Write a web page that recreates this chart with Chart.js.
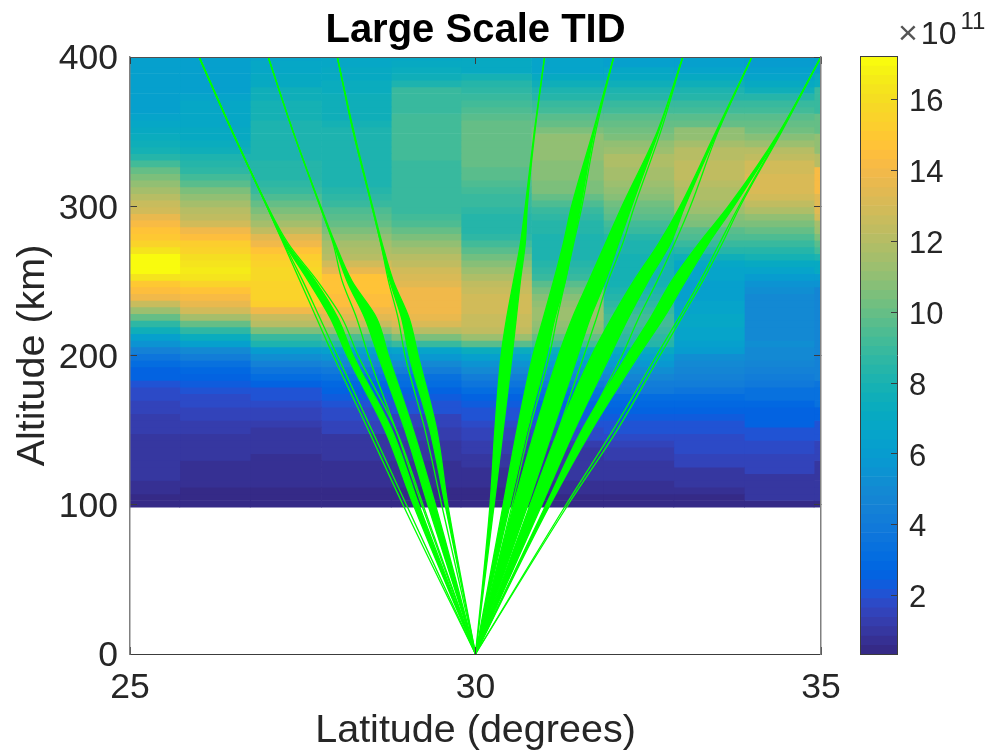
<!DOCTYPE html>
<html>
<head>
<meta charset="utf-8">
<title>Large Scale TID</title>
<script src="https://cdn.jsdelivr.net/npm/chart.js@4"></script>
<style>
  body { margin: 0; background: #fff; overflow: hidden; }
  canvas { position: absolute; top: 0; }
  #heatCanvas { left: 0; }
  #barCanvas { left: 850px; }
  #barExp { position: absolute; left: 898px; top: 13px; font: 32px "Liberation Sans", sans-serif; color: #262626; white-space: nowrap; }
  #barExp .times { color: #555; font-size: 34px; margin-right: 3px; }
  #barExp sup { font-size: 24px; line-height: 0; vertical-align: 15px; margin-left: 4px; }
</style>
</head>
<body>
<canvas id="heatCanvas" width="986" height="755"></canvas>
<canvas id="barCanvas" width="136" height="755"></canvas>
<div id="barExp"><span class="times">×</span>10<sup>11</sup></div>
<script>
const latTicks = [25, 30, 35];
const altTicks = [0, 100, 200, 300, 400];
const barTicks = [2, 4, 6, 8, 10, 12, 14, 16];

// heat map grid: column edges in degrees, rows start at heatAltStart
const heatLatEdges = [25, 25.72, 26.74, 27.77, 28.78, 29.79, 30.81, 31.85, 32.87, 33.89, 34.9, 35];
const heatAltStart = 98.4;
const heatAltStep = 4.47;

// electron density (x 1e11), one list per column, bottom row first
const heatCol01 = [.55,.6,.65,.7,1.1,1.1,1.1,1.1,1.15,1.15,1.15,1.2,1.2,1.25,1.55,1.6,1.7,1.9,2.2,2.5,2.7,3.1,3.7,4.5,5.4,6.4,7.6,8.6,10,11.4,12.6,13.8,14.4,15,16.2,17,17.2,17,16.2,15.6,15,14.6,14.3,13.6,13,12.5,12,11.5,11,10.5,10,9.2,8.5,7.9,7.6,7.3,7.1,6.9,6.6,6.4,6.4,6.3,6.3,6.3,6.3,6.3,6.3,6.3];
const heatCol02 = [.55,.6,.6,.65,.65,.7,.75,1.1,1.1,1.15,1.15,1.2,1.2,1.55,1.6,1.7,1.9,2.1,2.3,2.6,2.9,3.3,4.2,5,6.2,7.3,8.6,10,11.5,12.8,13.6,14.2,14.8,15.5,16.4,16.5,16.4,16,15.6,15.2,14.5,13.8,13,12.4,12,11.5,11,10.4,9.8,9.2,8.7,8.3,8,7.7,7.4,7.2,7,6.9,6.8,6.7,6.7,6.6,6.4,6.4,6.4,6.4,6.3,6.3];
const heatCol03 = [.55,.6,.6,.65,.65,.7,.7,.75,1.05,1.1,1.1,1.15,1.35,1.45,1.6,1.9,1.95,2.2,2.6,3,3.6,4.4,5.2,6,8,8.8,10.5,12,12.6,14,15.2,15.6,15.5,15.6,15.7,15.7,15.5,15.2,14.6,14,13.3,12.4,11.6,11,10.4,10,9.5,9,8.7,8.5,8.4,8.3,8.2,8.2,8.1,8.1,8,8,7.9,7.9,7.8,7.6,7.5,7.2,7.1,6.9,6.7,6.6];
const heatCol04 = [.55,.6,.6,.65,.65,.7,.75,1.05,1.1,1.1,1.15,1.5,1.55,1.8,1.85,2,2.3,2.5,2.8,3.3,4,4.7,5.5,6.2,8.3,9.5,11,12.6,13.4,14,14.4,14.4,14.6,14.6,14.6,13.6,12.8,12.2,11.8,11.5,11,10.6,10,9.6,9.4,9,8.6,8.3,8.2,8.2,8.2,8.2,8.2,8.1,8,8,8,7.9,7.7,7.7,7.6,7.6,7.4,7.3,7.2,7.1,6.9,6.8];
const heatCol05 = [.55,.6,.6,.65,.65,.7,.75,1.05,1.1,1.15,1.35,1.4,1.6,1.65,1.95,2.05,2.3,2.5,3,3.5,4.3,4.9,5.7,6.5,8.9,10.5,12.2,13.2,13.6,14,14,14,14,13.4,13.1,12.8,12.4,12,11.6,11,10.4,10,9.5,9.2,9,8.8,8.8,8.8,8.8,8.8,8.8,9,9.2,9.3,9.3,9.3,9.3,9.3,9.2,9,8.9,8.9,8.8,8,7.7,7.3,7,6.9];
const heatCol06 = [.55,.6,.6,.65,.7,.75,1,1.05,1.2,1.25,1.5,1.55,1.9,1.95,2.2,2.4,2.6,3,3.6,4.2,4.9,5.6,6.3,7.3,9.8,11.3,12.4,12.7,12.7,13,13,12.9,12.7,12.4,11.8,11.2,10.7,10.3,9.8,9.3,8.7,8.4,8.3,8.4,8.6,8.8,9,9.2,9.4,9.6,9.8,10,10,10,10,10,10,9.9,9.6,9.4,9.1,8.9,8.6,8.4,7.8,7.2,7,7];
const heatCol07 = [.55,.6,.65,.7,.95,1,1,1.1,1.15,1.4,1.7,1.9,2.1,2.4,2.45,2.6,3,3.4,4,4.7,5.2,5.8,6.5,7.4,9.3,10.1,10.8,11,11.2,11.2,11,10.7,10.3,9.7,9,8.6,8.3,8.2,8.1,8.2,8.2,8.3,8.3,8.6,9,9.5,10,10.4,10.6,10.8,10.8,10.8,10.9,11,11,10.9,10.4,10,9.6,9.3,8.9,8.5,8.1,7.6,7,6.6,6.5,6.5];
const heatCol08 = [.55,.6,.65,.7,1,1.05,1.1,1.3,1.35,1.6,1.7,2.05,2.15,2.45,2.55,2.8,3.2,3.8,4.3,4.7,5.2,5.7,6.3,7,8.5,8.7,9,9.1,9.1,9,8.7,8.5,8.1,7.9,7.8,7.8,7.8,7.9,8,8.1,8.4,8.8,9.3,9.6,10,10.3,10.7,11,11.4,11.5,11.5,11.7,11.7,11.4,11.1,10.5,10.2,10,9.6,9.3,8.9,8.5,8,7.5,7,6.7,6.3,6.3];
const heatCol09 = [.55,.6,.65,1.05,1.1,1.15,1.45,1.5,1.7,1.75,1.8,2.05,2.15,2.45,2.55,2.8,3.2,3.7,4.2,4.4,4.6,5,5.2,5.9,6.2,6.5,6.6,6.7,6.7,6.5,6.5,6.4,6.4,6.4,6.5,6.5,6.7,7.5,8.3,9,9.5,9.8,10.4,10.8,11.2,11.5,11.8,11.9,12.2,12.4,12.4,12.4,12.2,12,11.5,11.1,10.9,10,9.6,9.3,8.9,8.5,8,7.5,7,6.6,6.2,6.2];
const heatCol10 = [.55,.95,1,1,1.05,1.45,1.5,1.5,1.75,1.8,2.05,2.15,2.5,2.6,2.65,2.9,3.3,3.5,4,4.2,4.4,4.6,4.9,5.1,5.2,5.1,5.1,5.1,5.1,5.1,5,5,5.2,5.4,6,6.5,7,7.8,8.5,9,9.5,10,10.4,11,11.8,12.4,12.8,13.2,13.2,13.2,13,12.8,12.3,12,11.4,10.8,10.3,10,9.6,9.2,9,8.3,7.7,7.2,6.6,6.2,6,6];
const heatCol11 = [.55,1,1,1,1,1,1.05,1.6,1.6,1.6,2.2,2.2,2.2,2.6,2.6,3.3,3.5,3.5,3.6,4.5,4.5,4.5,4.5,4.6,4.6,4.6,4.6,4.6,4.6,4.6,4.6,4.6,4.6,5.5,5.9,7,7.2,8,9.3,9.7,10.5,11.3,11.5,13,13.3,13.4,13.4,14.1,14.1,14.1,14.1,12.2,12.2,11,11,11,10,10,10,8.8,8.8,8.8,8.8,7.4,7.4,6.3,6.3,6.3];
const heatCols = [heatCol01, heatCol02, heatCol03, heatCol04, heatCol05, heatCol06, heatCol07, heatCol08, heatCol09, heatCol10, heatCol11];

// ray paths: latitude at each of these altitudes (km)
const rayAlts = [0, 100, 150, 200, 225, 250, 275, 300, 350, 400];
const rayA1 = [30, 28.95, 28.45, 27.94, 27.70, 27.46, 27.22, 26.98, 26.48, 26];
const rayA2 = [30, 29.00, 28.50, 28.00, 27.75, 27.50, 27.23, 26.98, 26.48, 26];
const rayAL = [30, 29.10, 28.69, 28.14, 27.90, 27.58, 27.24, 26.98, 26.48, 26];
const rayAR = [30, 29.18, 28.79, 28.23, 28.01, 27.68, 27.27, 26.99, 26.48, 26];
const rayA3 = [30, 29.24, 28.85, 28.30, 28.07, 27.71, 27.29, 26.99, 26.48, 26];
const rayB1 = [30, 29.22, 28.85, 28.45, 28.28, 28.07, 27.94, 27.75, 27.36, 27];
const rayBL = [30, 29.31, 28.98, 28.59, 28.40, 28.14, 27.95, 27.75, 27.36, 27];
const rayBR = [30, 29.42, 29.10, 28.74, 28.57, 28.21, 27.97, 27.76, 27.36, 27];
const rayC1 = [30, 29.51, 29.27, 28.98, 28.88, 28.74, 28.63, 28.50, 28.23, 28];
const rayCL = [30, 29.56, 29.34, 29.04, 28.93, 28.76, 28.63, 28.50, 28.23, 28];
const rayCR = [30, 29.60, 29.44, 29.17, 29.04, 28.81, 28.65, 28.51, 28.24, 28];
const rayDL = [30, 30.21, 30.28, 30.37, 30.45, 30.55, 30.65, 30.72, 30.85, 31];
const rayDR = [30, 30.27, 30.40, 30.53, 30.59, 30.65, 30.72, 30.75, 30.86, 31];
const rayE1 = [30, 30.53, 30.78, 31.07, 31.18, 31.30, 31.42, 31.54, 31.74, 32];
const rayEL = [30, 30.40, 30.60, 30.83, 30.98, 31.13, 31.27, 31.39, 31.70, 32];
const rayER = [30, 30.50, 30.75, 31.03, 31.15, 31.30, 31.41, 31.52, 31.72, 32];
const rayF1 = [30, 30.83, 31.20, 31.57, 31.75, 31.92, 32.13, 32.30, 32.68, 33];
const rayFL = [30, 30.55, 30.86, 31.20, 31.40, 31.64, 31.88, 32.12, 32.63, 33];
const rayFR = [30, 30.76, 31.12, 31.48, 31.66, 31.88, 32.07, 32.26, 32.65, 33];
const rayG1 = [30, 31.04, 31.56, 32.12, 32.36, 32.63, 32.88, 33.11, 33.51, 34];
const rayGL = [30, 30.79, 31.20, 31.68, 31.97, 32.29, 32.65, 32.96, 33.48, 34];
const rayGR = [30, 30.96, 31.43, 31.95, 32.21, 32.50, 32.82, 33.03, 33.50, 34];
const rayHL = [30, 31.02, 31.54, 32.19, 32.53, 32.84, 33.23, 33.66, 34.40, 35];
const rayHR = [30, 31.08, 31.68, 32.36, 32.72, 33.04, 33.37, 33.74, 34.41, 35];
const rayH1 = [30, 31.31, 31.99, 32.62, 32.94, 33.25, 33.53, 33.81, 34.42, 35];
const rayH2 = [30, 31.34, 32.05, 32.67, 32.98, 33.29, 33.57, 33.83, 34.43, 35];
const thinRays = [rayA1, rayA2, rayA3, rayB1, rayC1, rayE1, rayF1, rayG1, rayH1, rayH2];
const bandRays = [[rayAL, rayAR], [rayBL, rayBR], [rayCL, rayCR], [rayDL, rayDR], [rayEL, rayER], [rayFL, rayFR], [rayGL, rayGR], [rayHL, rayHR]];

// parula, 64 levels
const parula = [[.2081,.1663,.5292],[.2116,.1898,.5777],[.2123,.2138,.627],[.2081,.2386,.6771],[.1959,.2645,.7279],[.1707,.2919,.7792],[.1253,.3242,.8303],[.0591,.3598,.8683],[.0117,.3875,.882],[.006,.4086,.8828],[.0165,.4266,.8786],[.0329,.443,.872],[.0498,.4586,.8641],[.0629,.4737,.8554],[.0723,.4887,.8467],[.0779,.504,.8384],[.0793,.52,.8312],[.0749,.5375,.8263],[.0641,.557,.824],[.0488,.5772,.8228],[.0343,.5966,.8199],[.0265,.6137,.8135],[.0239,.6287,.8038],[.0231,.6418,.7913],[.0228,.6535,.7768],[.0267,.6642,.7607],[.0384,.6743,.7436],[.059,.6838,.7254],[.0843,.6928,.7062],[.1133,.7015,.6859],[.1453,.7098,.6646],[.1801,.7177,.6424],[.2178,.725,.6193],[.2586,.7317,.5954],[.3022,.7376,.5712],[.3482,.7424,.5473],[.3953,.7459,.5244],[.442,.7481,.5033],[.4871,.7491,.484],[.53,.7491,.4661],[.5709,.7485,.4494],[.6099,.7473,.4337],[.6473,.7456,.4188],[.6834,.7435,.4044],[.7184,.7411,.3905],[.7525,.7384,.3768],[.7858,.7356,.3633],[.8185,.7327,.3498],[.8507,.7299,.336],[.8824,.7274,.3217],[.9139,.7258,.3063],[.945,.7261,.2886],[.9739,.7314,.2666],[.9938,.7455,.2403],[.999,.7653,.2164],[.9955,.7861,.1967],[.988,.8066,.1794],[.9789,.8271,.1633],[.9697,.8481,.1475],[.9626,.8705,.1309],[.9589,.8949,.1132],[.9598,.9218,.0948],[.9661,.9514,.0755],[.9763,.9831,.0538]];
const cMin = 0.36;
const cMax = 17.22;

const textColor = '#262626';
const axisColor = '#3c3c3c';
const sideColor = '#808080';
const tickFont = { family: '"Liberation Sans", sans-serif', size: 35.5 };
const barFont = { family: '"Liberation Sans", sans-serif', size: 31 };
const labelFont = { family: '"Liberation Sans", sans-serif', size: 39.5 };
const green = '#00ff00';
const pxPerDeg = 69.1;

function levelColor(k) {
    const c = parula[k];
    return `rgb(${Math.round(c[0] * 255)},${Math.round(c[1] * 255)},${Math.round(c[2] * 255)})`;
}

function valueColor(v) {
    const k = Math.floor((v - cMin) / (cMax - cMin) * parula.length);
    return levelColor(Math.max(0, Math.min(parula.length - 1, k)));
}

function useTicks(list) {
    return scale => { scale.ticks = list.map(v => ({ value: v })); };
}

const datasets = [];

// one bar dataset per heat map column
heatCols.forEach((col, c) => {
    const lo = heatLatEdges[c], hi = heatLatEdges[c + 1];
    datasets.push({
        type: 'bar',
        order: 2,
        grouped: false,
        barThickness: (hi - lo) * pxPerDeg,
        data: col.map((v, r) => ({
            x: (lo + hi) / 2,
            y: [heatAltStart + r * heatAltStep, heatAltStart + (r + 1) * heatAltStep]
        })),
        backgroundColor: col.map(valueColor),
        borderWidth: 0
    });
});

function rayData(lats) {
    return lats.map((lat, i) => ({ x: lat, y: rayAlts[i] }));
}

function rayDataset(lats, fill) {
    return {
        type: 'line',
        order: 1,
        indexAxis: 'y',
        data: rayData(lats),
        borderColor: green,
        backgroundColor: green,
        borderWidth: 1.3,
        pointRadius: 0,
        cubicInterpolationMode: 'monotone',
        fill: fill
    };
}

thinRays.forEach(r => datasets.push(rayDataset(r, false)));
bandRays.forEach(pair => {
    datasets.push(rayDataset(pair[0], '+1'));
    datasets.push(rayDataset(pair[1], false));
});

const heatChart = new Chart(document.getElementById('heatCanvas').getContext('2d'), {
    data: { datasets: datasets },
    options: {
        responsive: false,
        animation: false,
        plugins: {
            legend: { display: false },
            tooltip: { enabled: false },
            title: {
                display: true,
                text: 'Large Scale TID',
                fullSize: false,
                color: '#000',
                font: { family: '"Liberation Sans", sans-serif', size: 40, weight: 'bold' },
                padding: { top: 7, bottom: 0 }
            }
        },
        scales: {
            x: {
                type: 'linear', min: 25, max: 35, offset: false,
                afterBuildTicks: useTicks(latTicks),
                afterFit: s => { s.height = 101; },
                grid: { offset: false, drawOnChartArea: false, tickLength: -7, color: axisColor, z: 1 },
                border: { color: axisColor, z: 1 },
                ticks: { color: textColor, font: tickFont, padding: 20, maxRotation: 0 },
                title: { display: true, text: 'Latitude (degrees)', color: textColor, font: labelFont, padding: { top: -7, bottom: 0 } }
            },
            y: {
                type: 'linear', min: 0, max: 400,
                afterBuildTicks: useTicks(altTicks),
                afterFit: s => { s.width = 130; },
                grid: { drawOnChartArea: false, tickLength: -7, color: axisColor, z: 1 },
                border: { color: sideColor, width: 1.5, z: 1 },
                ticks: { color: textColor, font: tickFont, padding: 19, labelOffset: 2.5 },
                title: { display: true, text: 'Altitude (km)', color: textColor, font: labelFont, padding: { top: 9, bottom: 0 } }
            },
            xTop: {
                type: 'linear', axis: 'x', position: 'top', min: 25, max: 35,
                afterBuildTicks: useTicks(latTicks),
                afterFit: s => { s.height = 2; },
                grid: { offset: false, drawOnChartArea: false, tickLength: -7, color: axisColor, z: 1 },
                border: { color: '#505050', z: 1 },
                ticks: { display: false }
            },
            yRight: {
                type: 'linear', axis: 'y', position: 'right', min: 0, max: 400,
                afterBuildTicks: useTicks(altTicks),
                afterFit: s => { s.width = 165; },
                grid: { drawOnChartArea: false, tickLength: -7, color: axisColor, z: 1 },
                border: { color: sideColor, width: 1.5, z: 1 },
                ticks: { display: false }
            }
        }
    }
});

// colour bar, one floating bar per colormap level
const barLevels = parula.map((c, k) => ({
    x: 0.5,
    y: [cMin + k * (cMax - cMin) / parula.length, cMin + (k + 1) * (cMax - cMin) / parula.length]
}));

const barChart = new Chart(document.getElementById('barCanvas').getContext('2d'), {
    type: 'bar',
    data: {
        datasets: [{
            data: barLevels,
            backgroundColor: parula.map((c, k) => levelColor(k)),
            barThickness: 37,
            borderWidth: 0
        }]
    },
    options: {
        responsive: false,
        animation: false,
        layout: { padding: { left: 10, top: 56, bottom: 101 } },
        plugins: { legend: { display: false }, tooltip: { enabled: false } },
        scales: {
            x: {
                type: 'linear', min: 0, max: 1, offset: false,
                afterFit: s => { s.height = 0; },
                grid: { display: false },
                border: { color: axisColor, z: 1 },
                ticks: { display: false }
            },
            xTop: {
                type: 'linear', axis: 'x', position: 'top', min: 0, max: 1,
                afterFit: s => { s.height = 0; },
                grid: { display: false },
                border: { color: axisColor, z: 1 },
                ticks: { display: false }
            },
            y: {
                type: 'linear', position: 'right', min: cMin, max: cMax,
                afterBuildTicks: useTicks(barTicks),
                afterFit: s => { s.width = 89; },
                grid: { drawOnChartArea: false, tickLength: -6, color: axisColor, z: 1 },
                border: { color: axisColor, z: 1 },
                ticks: { color: textColor, font: barFont, padding: 18, labelOffset: 3 }
            },
            yLeft: {
                type: 'linear', axis: 'y', position: 'left', min: cMin, max: cMax,
                afterFit: s => { s.width = 0; },
                grid: { display: false },
                border: { color: axisColor, z: 1 },
                ticks: { display: false }
            }
        }
    }
});
</script>
</body>
</html>
